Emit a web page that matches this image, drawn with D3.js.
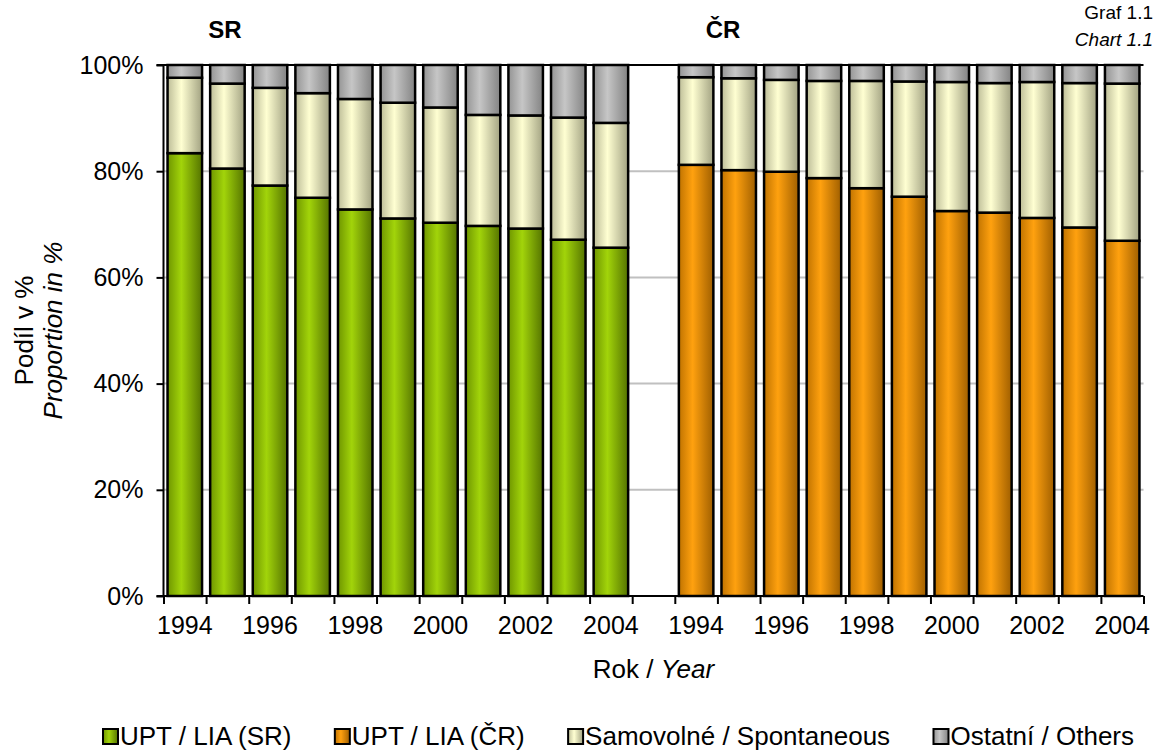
<!DOCTYPE html>
<html>
<head>
<meta charset="utf-8">
<script src="https://cdn.jsdelivr.net/npm/d3@7"></script>
<style>
  body { margin: 0; background: #fff; }
  svg { display: block; font-family: Arial, "Liberation Sans", sans-serif; }
</style>
</head>
<body>
<svg id="chart" width="1154" height="751"></svg>
<script>
// Years shown in both panels
const years = ['1994', '1995', '1996', '1997', '1998', '1999', '2000', '2001', '2002', '2003', '2004'];

// SR (Slovakia) shares in %
const srUpt = [83.4, 80.5, 77.3, 75.0, 72.8, 71.1, 70.3, 69.7, 69.2, 67.1, 65.6];
const srSamov = [14.2, 16.0, 18.4, 19.7, 20.8, 21.8, 21.7, 20.9, 21.3, 23.0, 23.5];
const srOthers = [2.4, 3.5, 4.3, 5.3, 6.4, 7.1, 8.0, 9.4, 9.5, 9.9, 10.9];

// ČR (Czech Republic) shares in %
const crUpt = [81.2, 80.2, 79.9, 78.7, 76.8, 75.2, 72.5, 72.2, 71.2, 69.4, 66.9];
const crSamov = [16.5, 17.3, 17.3, 18.3, 20.2, 21.7, 24.3, 24.4, 25.6, 27.2, 29.6];
const crOthers = [2.3, 2.5, 2.8, 3.0, 3.0, 3.1, 3.2, 3.4, 3.2, 3.4, 3.5];

const yTicks = [0, 20, 40, 60, 80, 100];
const legendLabels = ['UPT / LIA (SR)', 'UPT / LIA (ČR)', 'Samovolné / Spontaneous', 'Ostatní / Others'];

const svg = d3.select('#chart');
const margin = { left: 163.5, right: 10.5, top: 65, bottom: 155 };
const width = 1154, height = 751;
const fontSize = 25;

// slot keys: 11 SR years, one empty slot, 11 CR years
const slots = years.map((y) => 'SR-' + y).concat(['gap'], years.map((y) => 'CR-' + y));

const x = d3.scaleBand()
  .domain(slots)
  .range([margin.left, width - margin.right])
  .paddingInner(0.19)
  .paddingOuter(0.095);

const y = d3.scaleLinear().domain([0, 100]).range([height - margin.bottom, margin.top]);

// gradients (darker edges, lighter centre like the original)
const palette = {
  green: ['#6f9600', '#a2d40a', '#557400'],
  orange: ['#c07300', '#ffa10f', '#a05f00'],
  cream: ['#bdbd98', '#ffffd2', '#a2a282'],
  gray: ['#949494', '#c6c6c6', '#838383'],
};
const defs = svg.append('defs');
Object.entries(palette).forEach(([name, c]) => {
  const g = defs.append('linearGradient').attr('id', 'grad-' + name)
    .attr('x1', 0).attr('x2', 1).attr('y1', 0).attr('y2', 0);
  g.append('stop').attr('offset', '0%').attr('stop-color', c[0]);
  g.append('stop').attr('offset', '40%').attr('stop-color', c[1]);
  g.append('stop').attr('offset', '100%').attr('stop-color', c[2]);
});

// gridlines
svg.append('g')
  .selectAll('line')
  .data(yTicks.filter((t) => t > 0 && t < 100))
  .enter()
  .append('line')
  .attr('x1', margin.left)
  .attr('x2', width - margin.right)
  .attr('y1', (d) => y(d))
  .attr('y2', (d) => y(d))
  .attr('stroke', '#c0c0c0')
  .attr('stroke-width', 2);

// build stacked rows
const rows = [];
years.forEach((yr, i) => {
  rows.push({ key: 'SR-' + yr, upt: srUpt[i], samov: srSamov[i], others: srOthers[i], c: 'green' });
});
years.forEach((yr, i) => {
  rows.push({ key: 'CR-' + yr, upt: crUpt[i], samov: crSamov[i], others: crOthers[i], c: 'orange' });
});

const stack = d3.stack().keys(['upt', 'samov', 'others']);
const series = stack(rows);
const fillFor = (key, d) => key === 'upt' ? d.data.c : (key === 'samov' ? 'cream' : 'gray');

const barGroup = svg.append('g');
series.forEach((s) => {
  barGroup.append('g')
    .selectAll('rect')
    .data(s)
    .enter()
    .append('rect')
    .attr('x', (d) => x(d.data.key))
    .attr('width', x.bandwidth())
    .attr('y', (d) => y(d[1]))
    .attr('height', (d) => y(d[0]) - y(d[1]))
    .attr('fill', (d) => 'url(#grad-' + fillFor(s.key, d) + ')')
    .attr('stroke', '#000')
    .attr('stroke-width', 2.5);
});

// top border line at 100%
svg.append('line')
  .attr('x1', margin.left).attr('x2', width - margin.right)
  .attr('y1', y(100)).attr('y2', y(100))
  .attr('stroke', '#000').attr('stroke-width', 2);

// y axis
const yAxis = svg.append('g')
  .attr('transform', `translate(${margin.left},0)`)
  .call(d3.axisLeft(y).tickValues(yTicks).tickSize(7).tickPadding(13).tickFormat((d) => d + '%'));
yAxis.select('.domain').attr('stroke-width', 2).attr('d', `M-7,${y(100)}H0V${y(0)}H-7`);
yAxis.selectAll('.tick line').attr('stroke-width', 2);
yAxis.selectAll('text').attr('font-size', fontSize).attr('font-family', 'Arial, "Liberation Sans", sans-serif').attr('fill', '#000');

// x axis: tick marks at slot boundaries
const slotIdx = d3.scaleLinear().domain([0, slots.length]).range(x.range());
const xAxis = svg.append('g')
  .attr('transform', `translate(0,${y(0)})`)
  .call(d3.axisBottom(slotIdx).tickValues(d3.range(slots.length + 1)).tickSize(8).tickFormat(''));
xAxis.select('.domain').attr('stroke-width', 2).attr('d', `M${margin.left},0H${width - margin.right}`);
xAxis.selectAll('.tick line').attr('stroke-width', 2);

// x labels every other year
const xLabels = svg.append('g')
  .attr('transform', `translate(0,${y(0)})`)
  .call(d3.axisBottom(x).tickSize(0).tickPadding(20)
    .tickValues(slots.filter((s) => s !== 'gap' && (+s.slice(3) - 1994) % 2 === 0))
    .tickFormat((d) => d.slice(3)));
xLabels.select('.domain').remove();
xLabels.selectAll('text').attr('font-size', fontSize).attr('font-family', 'Arial, "Liberation Sans", sans-serif').attr('fill', '#000');

// axis titles
const xTitle = svg.append('text')
  .attr('x', (margin.left + width - margin.right) / 2)
  .attr('y', 678)
  .attr('text-anchor', 'middle')
  .attr('font-size', 26);
xTitle.append('tspan').text('Rok / ');
xTitle.append('tspan').attr('font-style', 'italic').text('Year');

const yMid = (y(0) + y(100)) / 2;
svg.append('text')
  .attr('transform', `translate(33,${yMid}) rotate(-90)`)
  .attr('text-anchor', 'middle')
  .attr('font-size', 26)
  .text('Podíl v %');
svg.append('text')
  .attr('transform', `translate(62,${yMid}) rotate(-90)`)
  .attr('text-anchor', 'middle')
  .attr('font-size', 26)
  .attr('font-style', 'italic')
  .text('Proportion in %');

// panel titles
svg.append('text').attr('x', 225).attr('y', 38).attr('text-anchor', 'middle')
  .attr('font-size', 24).attr('font-weight', 'bold').text('SR');
svg.append('text').attr('x', 723).attr('y', 38).attr('text-anchor', 'middle')
  .attr('font-size', 24).attr('font-weight', 'bold').text('ČR');

// chart number, top right
svg.append('text').attr('x', 1153).attr('y', 19).attr('text-anchor', 'end')
  .attr('font-size', 19).text('Graf 1.1');
svg.append('text').attr('x', 1153).attr('y', 46).attr('text-anchor', 'end')
  .attr('font-size', 19).attr('font-style', 'italic').text('Chart 1.1');

// legend, spread between x=102 and x=1134
const legendFills = ['green', 'orange', 'cream', 'gray'];
const legendStart = 102, legendEnd = 1134;
const legend = svg.append('g').attr('transform', 'translate(0,745)');
const items = legendLabels.map((label, i) => {
  const item = legend.append('g');
  item.append('rect')
    .attr('x', 1).attr('y', -16).attr('width', 15).attr('height', 15)
    .attr('fill', 'url(#grad-' + legendFills[i] + ')')
    .attr('stroke', '#000').attr('stroke-width', 2);
  const t = item.append('text')
    .attr('x', 18).attr('y', 0)
    .attr('font-size', 26)
    .text(label);
  return { item, w: 18 + t.node().getComputedTextLength() };
});
const totalW = d3.sum(items, (d) => d.w);
const gap = (legendEnd - legendStart - totalW) / (items.length - 1);
let lx = legendStart;
items.forEach((d) => {
  d.item.attr('transform', `translate(${lx},0)`);
  lx += d.w + gap;
});
</script>
</body>
</html>
